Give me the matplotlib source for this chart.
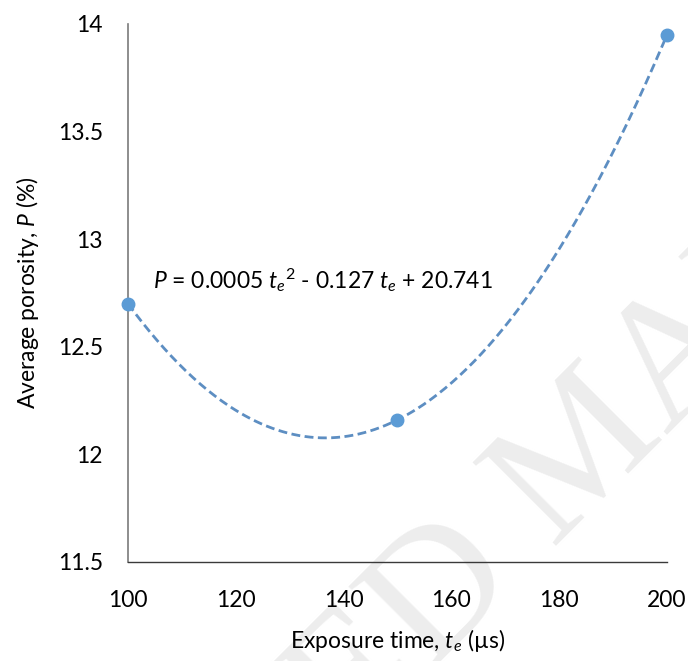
import numpy as np
import matplotlib
matplotlib.use("Agg")
import matplotlib.pyplot as plt

# ---- data ----
exposure_time = [100, 150, 200]          # t_e (us)
porosity = [12.70, 12.16, 13.95]         # P (%)
xticks = [100, 120, 140, 160, 180, 200]
yticks = [11.5, 12, 12.5, 13, 13.5, 14]
ytick_labels = ["11.5", "12", "12.5", "13", "13.5", "14"]
equation = r"$\mathit{P}$ = 0.0005 $\mathit{t_e}^{2}$ - 0.127 $\mathit{t_e}$ + 20.741"

plt.rcParams["font.family"] = ["Lato", "DejaVu Sans"]
plt.rcParams["mathtext.fontset"] = "custom"
plt.rcParams["mathtext.rm"] = "Lato"
plt.rcParams["mathtext.it"] = "Lato:italic"

fig = plt.figure(figsize=(6.88, 6.61), dpi=100)
ax = fig.add_axes([0.186, 0.150, 0.7835, 0.8137])
ax.set_facecolor("none")

# faint watermark behind everything
fig.text(0.855, 0.315, "ACCEPTED MANUSCRIPT", fontsize=130, family="Liberation Serif",
         color="#ededed", rotation=45, rotation_mode="anchor", ha="center", va="center",
         zorder=-5)

# trendline (2nd-order fit through the points) + markers
coef = np.polyfit(exposure_time, porosity, 2)
tt = np.linspace(min(exposure_time), max(exposure_time), 300)
ax.plot(tt, np.polyval(coef, tt), ls=(0, (3.2, 1.6)), lw=2.0, color="#5d8ec2", zorder=2)
ax.plot(exposure_time, porosity, "o", ms=9, color="#5b9bd5", zorder=3, clip_on=False)

ax.set_xlim(100, 200)
ax.set_ylim(11.5, 14)
ax.set_xticks(xticks)
ax.set_yticks(yticks)
ax.set_yticklabels(ytick_labels)
ax.tick_params(length=0, labelsize=16.5, colors="#000000")
ax.tick_params(axis="x", pad=20)
ax.tick_params(axis="y", pad=18)
for s in ("top", "right"):
    ax.spines[s].set_visible(False)
ax.spines["left"].set_color("#7a7a7a")
ax.spines["bottom"].set_color("#3a3a3a")
ax.spines["left"].set_linewidth(1.2)
ax.spines["bottom"].set_linewidth(1.0)

ax.text(104.6, 12.81, equation, fontsize=16.5, va="center", ha="left")

ax.set_xlabel(r"Exposure time, $\mathit{t_e}$ (µs)", fontsize=16.5, labelpad=12)
ax.set_ylabel(r"Average porosity, $\mathit{P}$ (%)", fontsize=16.5, labelpad=12)

fig.savefig("out.png", dpi=100)
